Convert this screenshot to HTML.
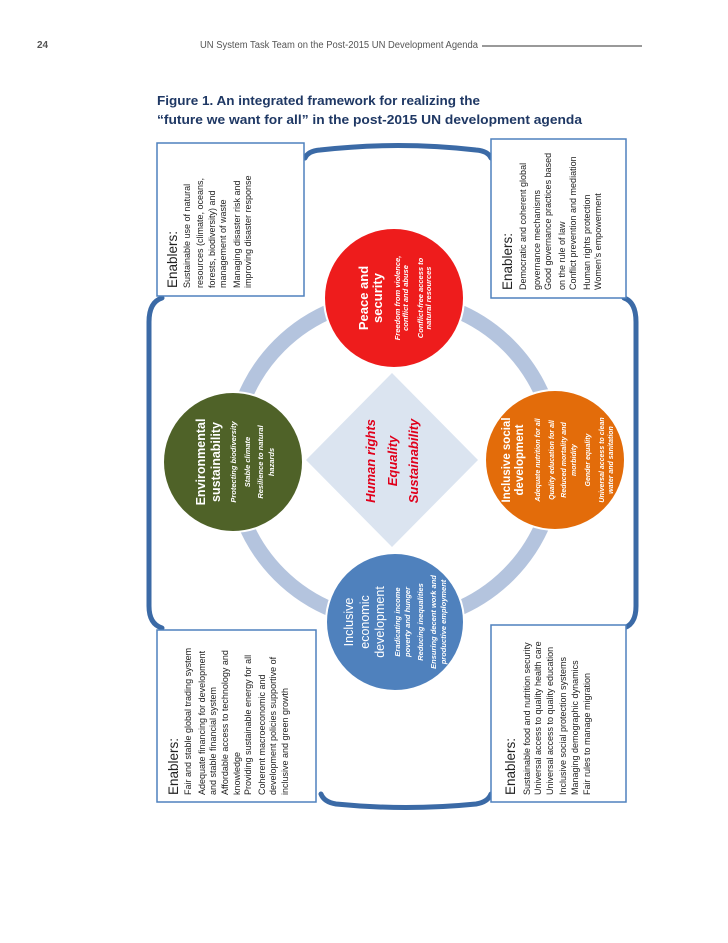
<!DOCTYPE html>
<html><head><meta charset="utf-8"><style>
html,body{margin:0;padding:0;background:#fff;}
svg{display:block;font-family:"Liberation Sans",sans-serif;}
</style></head><body>
<svg width="728" height="943" viewBox="0 0 728 943" xmlns="http://www.w3.org/2000/svg">
<text x="37" y="48" font-size="10" fill="#555" font-weight="bold">24</text>
<text x="200" y="48" font-size="10" fill="#555" textLength="278" lengthAdjust="spacingAndGlyphs">UN System Task Team on the Post-2015 UN Development Agenda</text>
<line x1="482" y1="46" x2="642" y2="46" stroke="#333" stroke-width="1"/>
<text x="157" y="105" font-size="13" font-weight="bold" fill="#1f3864" textLength="323" lengthAdjust="spacingAndGlyphs">Figure 1. An integrated framework for realizing the</text>
<text x="157" y="124" font-size="13" font-weight="bold" fill="#1f3864" textLength="425" lengthAdjust="spacingAndGlyphs">“future we want for all” in the post-2015 UN development agenda</text>

<g fill="none" stroke="#3b6aa6" stroke-width="5" stroke-linecap="round">
<path d="M162,298 Q149,302 149,322 L149,606 Q149,624 162,628"/>
<path d="M624,298 Q636,302 636,322 L636,606 Q636,624 624,628"/>
<path d="M305,158 Q308,151 320,150 Q398,141 476,150 Q488,151 491,158"/>
<path d="M321,794 Q324,802 336,804 Q406,811 476,804 Q488,802 491,794"/>
</g>

<circle cx="394" cy="460" r="162" fill="none" stroke="#b4c4de" stroke-width="15"/>
<polygon points="392,373 478,460 392,547 306,460" fill="#dbe4f0"/>

<circle cx="394" cy="298" r="70" fill="#ee1c1c" stroke="#fff" stroke-width="2"/>
<circle cx="233" cy="462" r="70" fill="#4f6228" stroke="#fff" stroke-width="2"/>
<circle cx="555" cy="460" r="70" fill="#e36c0a" stroke="#fff" stroke-width="2"/>
<circle cx="395" cy="622" r="69" fill="#4f81bd" stroke="#fff" stroke-width="2"/>

<g fill="#fff" stroke="#4f81bd" stroke-width="1.5">
<rect x="157" y="143" width="147" height="153"/>
<rect x="491" y="139" width="135" height="159"/>
<rect x="157" y="630" width="159" height="172"/>
<rect x="491" y="625" width="135" height="177"/>
</g>

<g fill="#fff" text-anchor="middle">
<g transform="translate(0,298)">
<text transform="translate(368,0) rotate(-90)" font-size="13" font-weight="bold">Peace and</text>
<text transform="translate(382,0) rotate(-90)" font-size="13" font-weight="bold">security</text>
<text transform="translate(400,0) rotate(-90)" font-size="7.5" font-style="italic" font-weight="bold">Freedom from violence,</text>
<text transform="translate(408,0) rotate(-90)" font-size="7.5" font-style="italic" font-weight="bold">conflict and abuse</text>
<text transform="translate(423,0) rotate(-90)" font-size="7.5" font-style="italic" font-weight="bold">Conflict-free access to</text>
<text transform="translate(431,0) rotate(-90)" font-size="7.5" font-style="italic" font-weight="bold">natural resources</text>
</g>
<g transform="translate(0,462)">
<text transform="translate(205,0) rotate(-90)" font-size="12.5" font-weight="bold">Environmental</text>
<text transform="translate(220,0) rotate(-90)" font-size="12.5" font-weight="bold">sustainability</text>
<text transform="translate(236,0) rotate(-90)" font-size="7.5" font-style="italic" font-weight="bold">Protecting biodiversity</text>
<text transform="translate(250,0) rotate(-90)" font-size="7.5" font-style="italic" font-weight="bold">Stable climate</text>
<text transform="translate(263,0) rotate(-90)" font-size="7.5" font-style="italic" font-weight="bold">Resilience to natural</text>
<text transform="translate(274,0) rotate(-90)" font-size="7.5" font-style="italic" font-weight="bold">hazards</text>
</g>
<g transform="translate(0,460)">
<text transform="translate(510,0) rotate(-90)" font-size="11.5" font-weight="bold">Inclusive social</text>
<text transform="translate(523,0) rotate(-90)" font-size="11.5" font-weight="bold">development</text>
<text transform="translate(540,0) rotate(-90)" font-size="7" font-style="italic" font-weight="bold">Adequate nutrition for all</text>
<text transform="translate(554,0) rotate(-90)" font-size="7" font-style="italic" font-weight="bold">Quality education for all</text>
<text transform="translate(566,0) rotate(-90)" font-size="7" font-style="italic" font-weight="bold">Reduced mortality and</text>
<text transform="translate(576,0) rotate(-90)" font-size="7" font-style="italic" font-weight="bold">morbidity</text>
<text transform="translate(590,0) rotate(-90)" font-size="7" font-style="italic" font-weight="bold">Gender equality</text>
<text transform="translate(604,0) rotate(-90)" font-size="7" font-style="italic" font-weight="bold">Universal access to clean</text>
<text transform="translate(613,0) rotate(-90)" font-size="7" font-style="italic" font-weight="bold">water and sanitation</text>
</g>
<g transform="translate(0,622)">
<text transform="translate(353,0) rotate(-90)" font-size="12.5">Inclusive</text>
<text transform="translate(369,0) rotate(-90)" font-size="12.5">economic</text>
<text transform="translate(384,0) rotate(-90)" font-size="12.5">development</text>
<text transform="translate(400,0) rotate(-90)" font-size="7.5" font-style="italic" font-weight="bold">Eradicating income</text>
<text transform="translate(410,0) rotate(-90)" font-size="7.5" font-style="italic" font-weight="bold">poverty and hunger</text>
<text transform="translate(423,0) rotate(-90)" font-size="7.5" font-style="italic" font-weight="bold">Reducing inequalities</text>
<text transform="translate(436,0) rotate(-90)" font-size="7.5" font-style="italic" font-weight="bold">Ensuring decent work and</text>
<text transform="translate(446,0) rotate(-90)" font-size="7.5" font-style="italic" font-weight="bold">productive employment</text>
</g>
</g>
<g fill="#e0001b" text-anchor="middle" font-size="13" font-weight="bold" font-style="italic">
<text transform="translate(375,461) rotate(-90)">Human rights</text>
<text transform="translate(397,461) rotate(-90)">Equality</text>
<text transform="translate(418,461) rotate(-90)">Sustainability</text>
</g>

<g fill="#222" font-size="9">
<g transform="translate(0,288)">
<text transform="translate(177,0) rotate(-90)" font-size="13.5">Enablers:</text>
<text transform="translate(190,0) rotate(-90)">Sustainable use of  natural</text>
<text transform="translate(203,0) rotate(-90)">resources (climate, oceans,</text>
<text transform="translate(215,0) rotate(-90)">forests, biodiversity) and</text>
<text transform="translate(226,0) rotate(-90)">management of waste</text>
<text transform="translate(240,0) rotate(-90)">Managing disaster risk and</text>
<text transform="translate(251,0) rotate(-90)">improving disaster response</text>
</g>
<g transform="translate(0,290)">
<text transform="translate(512,0) rotate(-90)" font-size="13.5">Enablers:</text>
<text transform="translate(526,0) rotate(-90)">Democratic and coherent global</text>
<text transform="translate(540,0) rotate(-90)">governance mechanisms</text>
<text transform="translate(551,0) rotate(-90)">Good governance practices based</text>
<text transform="translate(565,0) rotate(-90)">on the rule of law</text>
<text transform="translate(576,0) rotate(-90)">Conflict prevention and mediation</text>
<text transform="translate(590,0) rotate(-90)">Human rights protection</text>
<text transform="translate(601,0) rotate(-90)">Women’s empowerment</text>
</g>
<g transform="translate(0,795)">
<text transform="translate(178,0) rotate(-90)" font-size="13.5">Enablers:</text>
<text transform="translate(191,0) rotate(-90)">Fair and stable global trading system</text>
<text transform="translate(205,0) rotate(-90)">Adequate financing for development</text>
<text transform="translate(216,0) rotate(-90)">and stable financial system</text>
<text transform="translate(228,0) rotate(-90)">Affordable access to technology and</text>
<text transform="translate(240,0) rotate(-90)">knowledge</text>
<text transform="translate(251,0) rotate(-90)">Providing sustainable energy for all</text>
<text transform="translate(265,0) rotate(-90)">Coherent macroeconomic and</text>
<text transform="translate(276,0) rotate(-90)">development policies supportive of</text>
<text transform="translate(288,0) rotate(-90)">inclusive and green growth</text>
</g>
<g transform="translate(0,795)">
<text transform="translate(515,0) rotate(-90)" font-size="13.5">Enablers:</text>
<text transform="translate(530,0) rotate(-90)">Sustainable food and nutrition security</text>
<text transform="translate(541,0) rotate(-90)">Universal access to quality health  care</text>
<text transform="translate(553,0) rotate(-90)">Universal access to quality education</text>
<text transform="translate(566,0) rotate(-90)">Inclusive social protection systems</text>
<text transform="translate(578,0) rotate(-90)">Managing demographic dynamics</text>
<text transform="translate(590,0) rotate(-90)">Fair rules to manage migration</text>
</g>
</g>
</svg>
</body></html>
